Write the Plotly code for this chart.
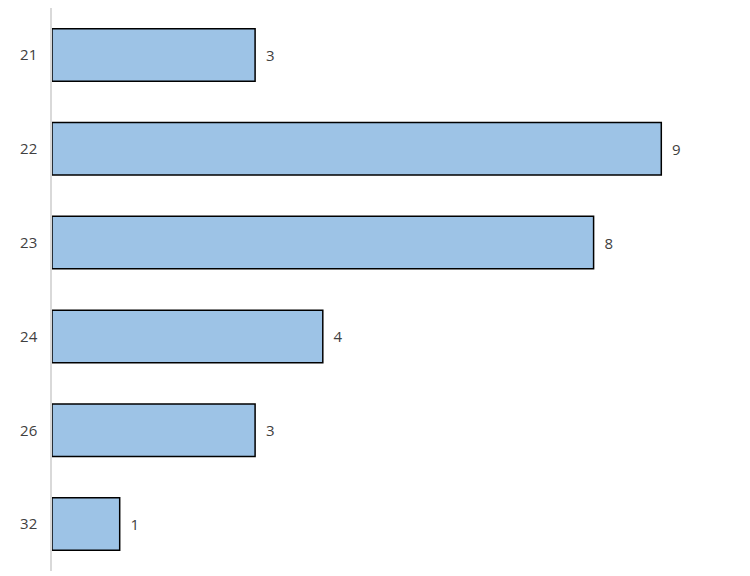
import plotly.graph_objects as go

categories = ["21", "22", "23", "24", "26", "32"]
values = [3, 9, 8, 4, 3, 1]

fig = go.Figure(go.Bar(
    x=values,
    y=categories,
    orientation="h",
    marker=dict(color="#9DC3E6", line=dict(color="#000000", width=1.5)),
    text=["\u00a0\u00a0" + str(v) for v in values],
    textposition="outside",
    textfont=dict(family="Open Sans", size=15, color="#404040"),
    cliponaxis=False,
))

fig.update_layout(
    width=750, height=576,
    margin=dict(l=44, r=29, t=0, b=13, autoexpand=False),
    paper_bgcolor="white", plot_bgcolor="white",
    bargap=0.44,
    showlegend=False,
    font=dict(family="Open Sans", size=15, color="#404040"),
)
fig.update_xaxes(range=[0, 10], showgrid=False, zeroline=False, showticklabels=False,
                 showline=False, automargin=False)
fig.update_yaxes(
    type="category", autorange="reversed", showgrid=False, zeroline=False,
    showline=True, linecolor="#D9D9D9", linewidth=1.5, automargin=False,
    ticks="", ticklabelstandoff=10,
    tickfont=dict(family="Open Sans", size=15, color="#404040"),
)

fig.write_html("out.html")
